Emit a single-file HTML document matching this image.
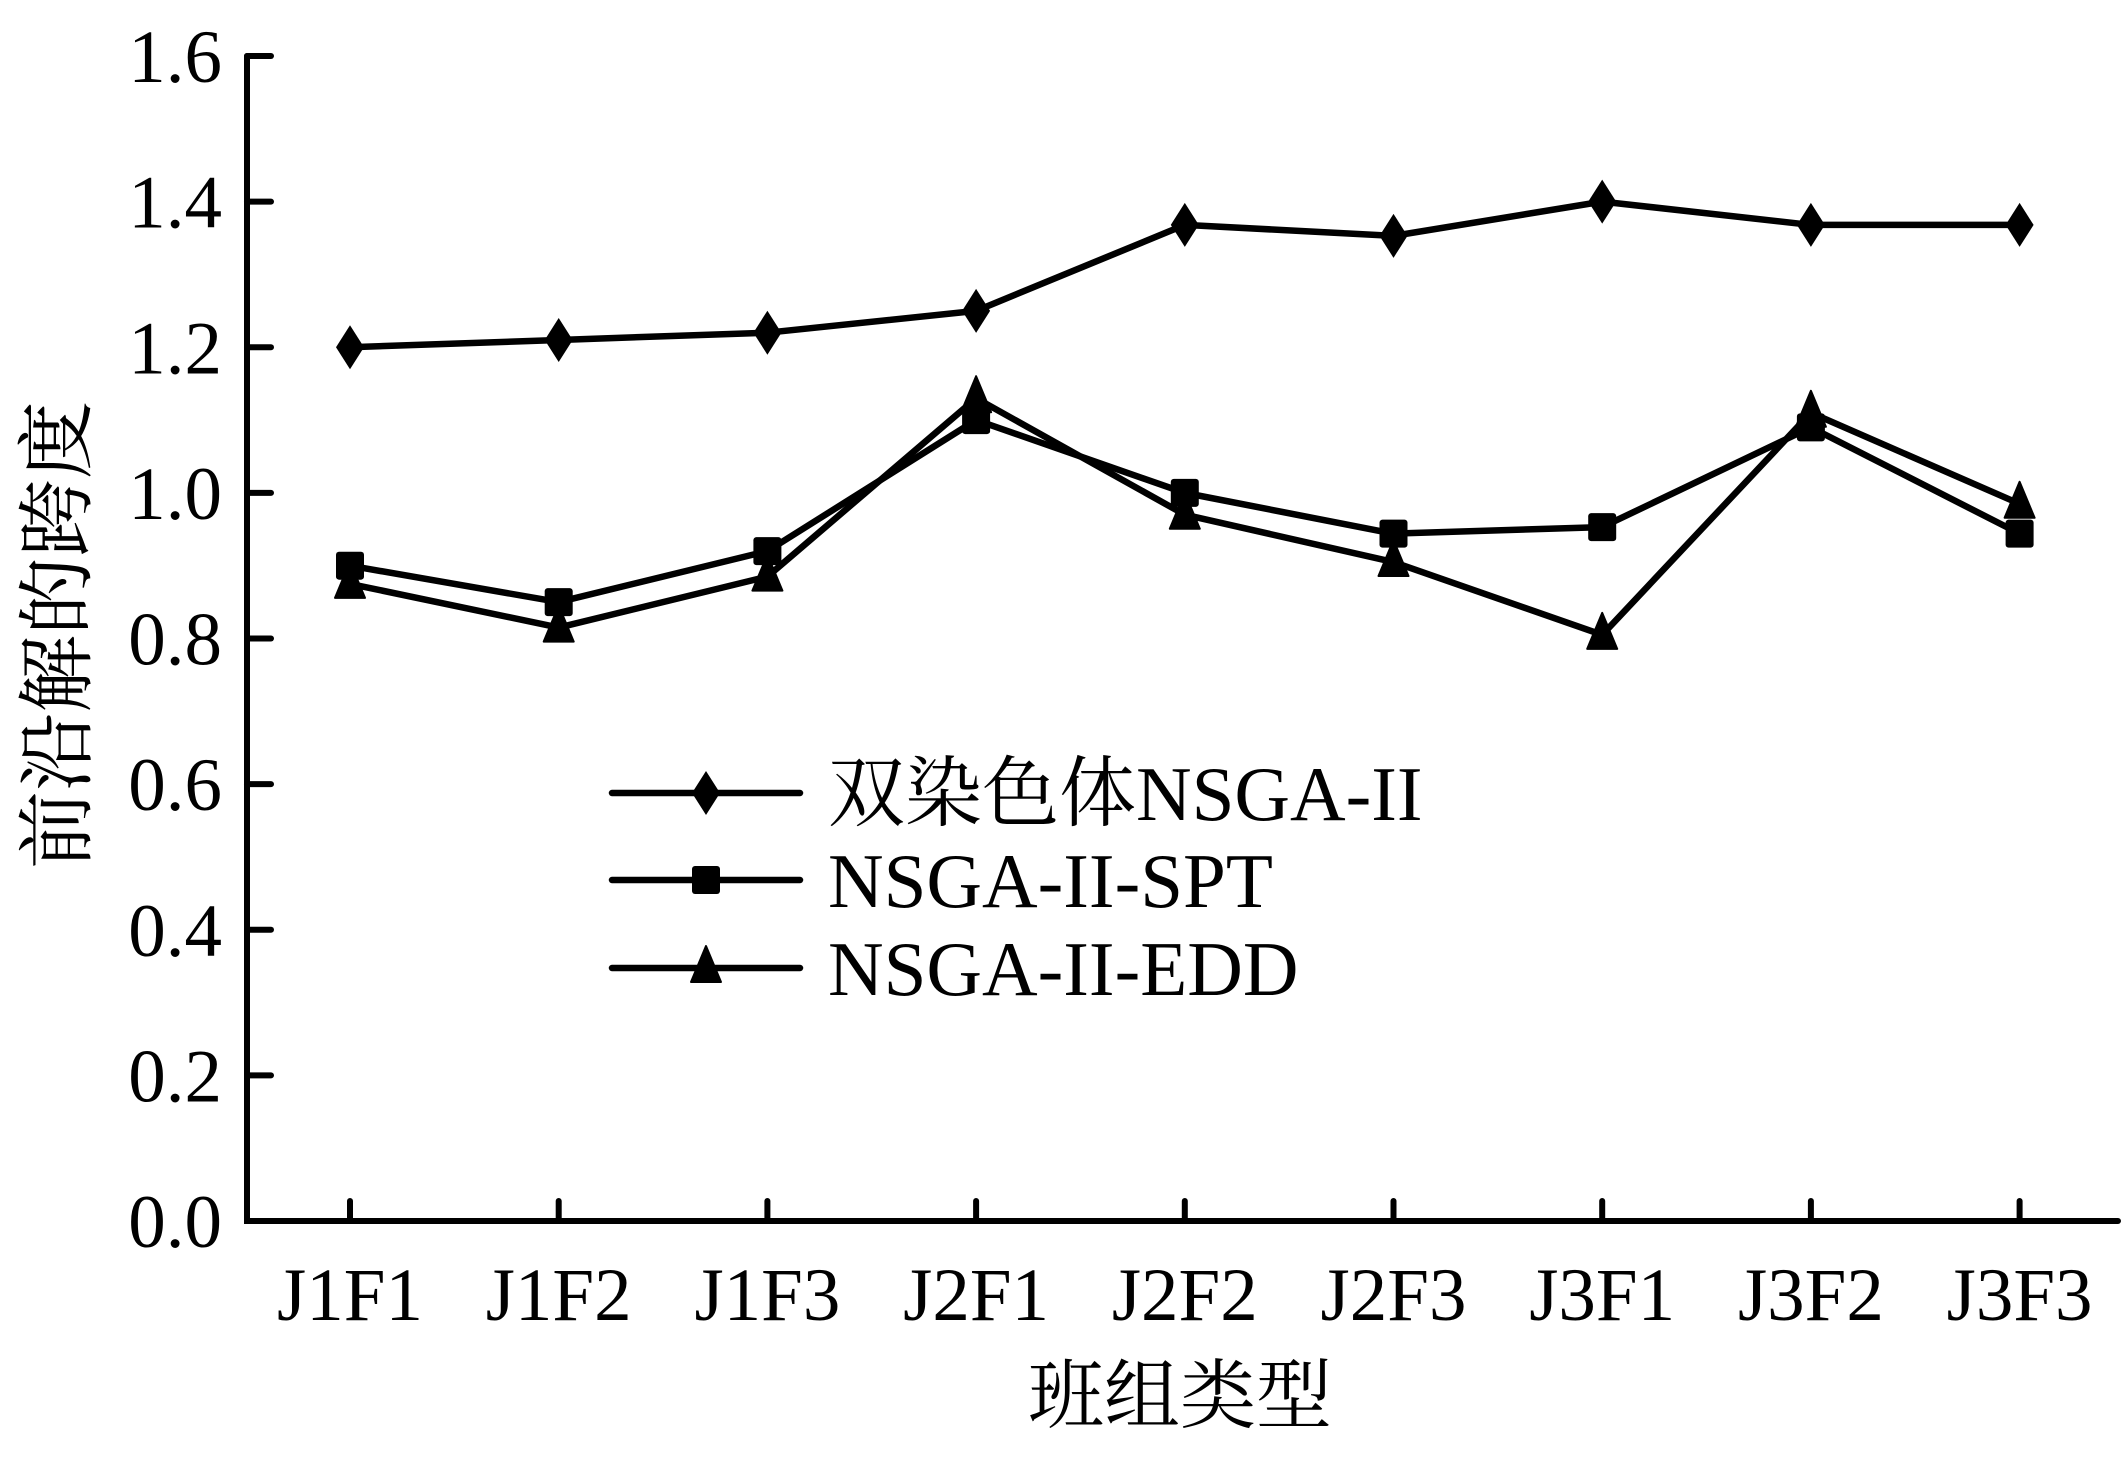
<!DOCTYPE html>
<html><head><meta charset="utf-8"><style>
html,body{margin:0;padding:0;background:#fff;}
svg text{font-family:"Liberation Serif","Noto Serif CJK SC",serif;fill:#000;}
</style></head><body>
<svg id="chart" width="2126" height="1453" viewBox="0 0 2126 1453" xmlns="http://www.w3.org/2000/svg">
<g id="axes"></g>
<g id="series"></g>
<g id="legend"></g>
<text x="1180" y="1422" font-size="76" text-anchor="middle">班组类型</text>
<text transform="translate(84,635) rotate(-90)" font-size="78" text-anchor="middle">前沿解的跨度</text>
</svg>
<script>
const categories = ["J1F1","J1F2","J1F3","J2F1","J2F2","J2F3","J3F1","J3F2","J3F3"];
const seriesNames = ["双染色体NSGA-II","NSGA-II-SPT","NSGA-II-EDD"];
const seriesDiamond = [1.20,1.21,1.22,1.25,1.368,1.353,1.40,1.368,1.368];
const seriesSquare = [0.90,0.85,0.92,1.10,1.00,0.944,0.953,1.09,0.944];
const seriesTriangle = [0.875,0.815,0.885,1.13,0.97,0.905,0.805,1.11,0.985];
const yTicks = [0.0,0.2,0.4,0.6,0.8,1.0,1.2,1.4,1.6];

const NS="http://www.w3.org/2000/svg";
const X0=247, XEND=2118, Y0=1221, Y1=56, YMAX=1.6;
function xPos(i){return 350 + i*208.7;}
function yPos(v){return Y0 - (v/YMAX)*(Y0-Y1);}
function mk(tag,attrs,parent){const e=document.createElementNS(NS,tag);for(const k in attrs)e.setAttribute(k,attrs[k]);parent.appendChild(e);return e;}

const axes=document.getElementById('axes');
let a=mk('path',{d:`M${X0} ${Y1} L${X0} ${Y0} L${XEND} ${Y0}`,fill:'none',stroke:'#000','stroke-width':6,'stroke-linecap':'round'},axes);


yTicks.forEach(v=>{
  const y=yPos(v);
  const t=mk('line',{x1:X0,y1:y,x2:X0+24,y2:y,stroke:'#000','stroke-width':6,'stroke-linecap':'round'},axes);
  
  
  const l=mk('text',{x:222,y:y+26,'font-size':75,'text-anchor':'end'},axes);
  l.textContent=v.toFixed(1);
  
  
});
categories.forEach((c,i)=>{
  const x=xPos(i);
  const t=mk('line',{x1:x,y1:Y0,x2:x,y2:Y0-20,stroke:'#000','stroke-width':6,'stroke-linecap':'round'},axes);
  
  
  const l=mk('text',{x:x,y:1320,'font-size':75,'text-anchor':'middle'},axes);
  l.textContent=c;
  
  
});

function marker(type,x,y,parent){
  let e;
  if(type==='diamond') e=mk('polygon',{points:`${x},${y-22} ${x+14},${y} ${x},${y+22} ${x-14},${y}`,fill:'#000'},parent);
  else if(type==='square') e=mk('rect',{x:x-14,y:y-14,width:28,height:28,rx:3,fill:'#000'},parent);
  else e=mk('polygon',{points:`${x},${y-22} ${x+15},${y+14} ${x-15},${y+14}`,fill:'#000','stroke':'#000','stroke-width':2,'stroke-linejoin':'round'},parent);
  return e;
}
const ser=document.getElementById('series');
const all=[[seriesDiamond,'diamond'],[seriesSquare,'square'],[seriesTriangle,'triangle']];
all.forEach(([vals,type],si)=>{
  const g=mk('g',{},ser);
  
  
  const pts=vals.map((v,i)=>`${xPos(i)},${yPos(v)}`).join(' ');
  const pl=mk('polyline',{points:pts,fill:'none',stroke:'#000','stroke-width':6.5,'stroke-linejoin':'round'},g);
  
  
  vals.forEach((v,i)=>{
    const m=marker(type,xPos(i),yPos(v),g);
    
    
  });
});
const leg=document.getElementById('legend');
const ly=[793,880,968];
all.forEach(([vals,type],si)=>{
  const g=mk('g',{},leg);
  
  
  const y=ly[si];
  mk('line',{x1:612,y1:y,x2:800,y2:y,stroke:'#000','stroke-width':6.5,'stroke-linecap':'round'},g);
  marker(type,706,y,g);
  const t=mk('text',{x:828,y:y+27,'font-size':77},g);
  t.textContent=seriesNames[si];
  
  
});
</script>
</body></html>
